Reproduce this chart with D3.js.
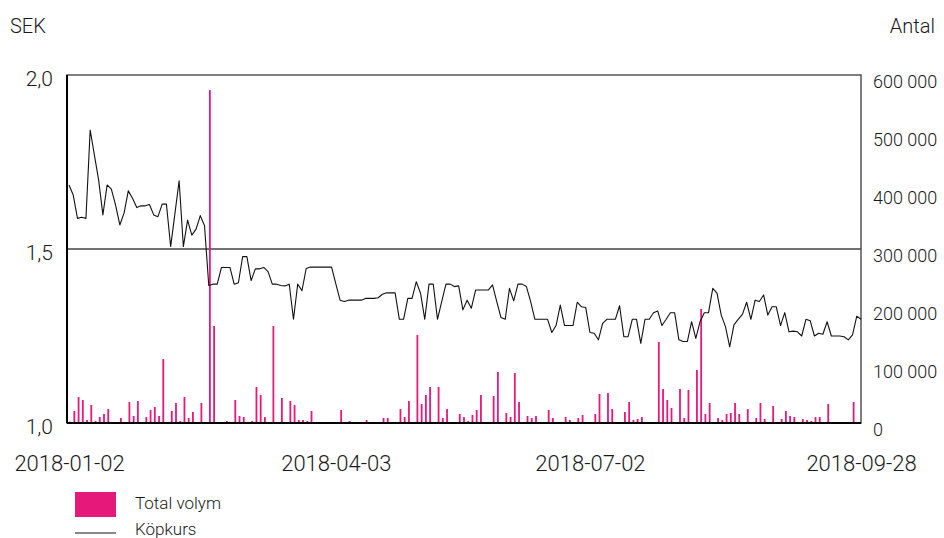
<!DOCTYPE html>
<html>
<head>
<meta charset="utf-8">
<script src="https://cdn.jsdelivr.net/npm/d3@7.9.0/dist/d3.min.js"></script>
<style>
  body { margin: 0; background: #fff; }
  svg text { font-family: Roboto, 'Liberation Sans', sans-serif; font-weight: 300; fill: #1a1a1a; }
</style>
</head>
<body>
<svg id="chart" width="944" height="538"></svg>
<script>
// Swedish trading days, 2018-01-02 .. 2018-09-28
const holidays = ['2018-01-01', '2018-03-30', '2018-04-02', '2018-05-01', '2018-05-10', '2018-06-06', '2018-06-22'];
const fmtDay = d3.timeFormat('%Y-%m-%d');
const dates = d3.timeDay.range(new Date(2018, 0, 2), new Date(2018, 8, 29))
  .filter(d => d.getDay() !== 0 && d.getDay() !== 6)
  .map(fmtDay)
  .filter(d => !holidays.includes(d));

const tickLabels = ['2018-01-02', '2018-04-03', '2018-07-02', '2018-09-28'];

// Köpkurs, SEK
const kopkurs = [
  1.684, 1.655, 1.588, 1.591, 1.588, 1.842, 1.770, 1.698, 1.598, 1.684,
  1.672, 1.626, 1.569, 1.603, 1.667, 1.646, 1.619, 1.624, 1.624, 1.628,
  1.598, 1.593, 1.629, 1.629, 1.507, 1.601, 1.696, 1.507, 1.583, 1.540,
  1.557, 1.596, 1.567, 1.395, 1.399, 1.399, 1.447, 1.447, 1.447, 1.399,
  1.403, 1.478, 1.478, 1.409, 1.443, 1.443, 1.447, 1.435, 1.399, 1.399,
  1.395, 1.394, 1.399, 1.298, 1.399, 1.380, 1.444, 1.448, 1.448, 1.448,
  1.448, 1.448, 1.448, 1.400, 1.353, 1.349, 1.353, 1.353, 1.353, 1.353,
  1.358, 1.358, 1.358, 1.360, 1.370, 1.374, 1.374, 1.374, 1.298, 1.298,
  1.358, 1.358, 1.406, 1.373, 1.298, 1.399, 1.399, 1.298, 1.349, 1.399,
  1.399, 1.392, 1.394, 1.325, 1.353, 1.330, 1.382, 1.382, 1.382, 1.382,
  1.397, 1.349, 1.303, 1.298, 1.387, 1.351, 1.399, 1.399, 1.392, 1.349,
  1.298, 1.298, 1.298, 1.298, 1.260, 1.280, 1.339, 1.280, 1.280, 1.280,
  1.347, 1.334, 1.332, 1.260, 1.258, 1.239, 1.286, 1.298, 1.298, 1.298,
  1.337, 1.248, 1.248, 1.298, 1.298, 1.229, 1.298, 1.298, 1.317, 1.322,
  1.280, 1.298, 1.317, 1.317, 1.239, 1.234, 1.234, 1.291, 1.243, 1.291,
  1.317, 1.317, 1.387, 1.373, 1.310, 1.277, 1.219, 1.282, 1.298, 1.312,
  1.347, 1.298, 1.353, 1.349, 1.368, 1.310, 1.334, 1.334, 1.280, 1.317,
  1.262, 1.264, 1.262, 1.250, 1.298, 1.294, 1.250, 1.258, 1.255, 1.291,
  1.250, 1.250, 1.250, 1.248, 1.239, 1.253, 1.307, 1.298
];

// Total volym, antal
const volym = [
  2300, 20700, 44800, 39700, 5200, 31000, 3400, 10300, 15500, 24100,
  0, 0, 8600, 1700, 36200, 12100, 37900, 0, 10300, 22400,
  27600, 12100, 110300, 0, 20700, 34500, 3400, 44800, 8600, 19000,
  1700, 34500, 1700, 574000, 167200, 0, 1700, 3400, 0, 39700,
  12100, 10300, 0, 3400, 62100, 48300, 10300, 0, 167200, 0,
  43100, 0, 37900, 31000, 5200, 5200, 3400, 20700, 0, 0,
  0, 0, 0, 0, 22400, 0, 3400, 0, 0, 0,
  5200, 0, 0, 0, 8600, 8600, 0, 1700, 24100, 10300,
  37900, 0, 151700, 32800, 48300, 62100, 0, 62100, 8600, 24100,
  0, 1700, 15500, 10300, 3400, 13800, 22400, 48300, 0, 0,
  46600, 87900, 1700, 17200, 10300, 86200, 36200, 0, 12100, 8600,
  12100, 1700, 1700, 22400, 8600, 1700, 0, 10300, 5200, 0,
  8600, 13800, 0, 0, 15500, 50000, 1700, 51700, 24100, 0,
  0, 19000, 36200, 5200, 6900, 10300, 1700, 0, 1700, 139700,
  58600, 39700, 25900, 0, 58600, 8600, 56900, 1700, 91400, 196600,
  15500, 34500, 0, 8600, 5200, 15500, 17200, 34500, 15500, 0,
  24100, 0, 8600, 34500, 6900, 1700, 29300, 0, 6900, 20700,
  12100, 10300, 0, 6900, 5200, 3400, 10300, 10300, 0, 32800,
  1700, 0, 0, 0, 1700, 36200, 0, 0
];

const margin = { top: 75, right: 83, bottom: 115, left: 67 };
const width = 944 - margin.left - margin.right;
const height = 538 - margin.top - margin.bottom;
const pink = '#e6197a';

const svg = d3.select('#chart');
const g = svg.append('g').attr('transform', `translate(${margin.left},${margin.top})`);

const x = d3.scalePoint().domain(dates).range([2, width]);
const yKurs = d3.scaleLinear().domain([1, 2]).range([height, 0]);
const yVol = d3.scaleLinear().domain([0, 600000]).range([height, 0]);

const comma = d3.format('.1f');
const spaced = d3.format(',');

// frame + gridline
g.append('rect')
  .attr('width', width).attr('height', height)
  .attr('fill', 'none').attr('stroke', '#555').attr('stroke-width', 1.5);
g.append('line')
  .attr('x1', 0).attr('x2', width)
  .attr('y1', yKurs(1.5)).attr('y2', yKurs(1.5))
  .attr('stroke', '#444').attr('stroke-width', 1.5);

// bars
g.selectAll('rect.bar')
  .data(dates)
  .join('rect')
  .attr('class', 'bar')
  .attr('x', (d) => x(d) + 0.2)
  .attr('width', 1.8)
  .attr('y', (d, i) => yVol(volym[i]))
  .attr('height', (d, i) => height - yVol(volym[i]))
  .attr('fill', pink);

// line
const line = d3.line()
  .x((d, i) => x(dates[i]))
  .y((d) => yKurs(d));
g.append('path')
  .datum(kopkurs)
  .attr('d', line)
  .attr('fill', 'none')
  .attr('stroke', '#111')
  .attr('stroke-width', 1.1)
  .attr('stroke-linejoin', 'round');

// left + bottom axis lines
g.append('line').attr('x1', 0).attr('x2', 0).attr('y1', 0).attr('y2', height)
  .attr('stroke', '#000').attr('stroke-width', 2);
g.append('line').attr('x1', 0).attr('x2', width).attr('y1', height).attr('y2', height)
  .attr('stroke', '#000').attr('stroke-width', 2);

// axes
const leftAxis = g.append('g')
  .call(d3.axisLeft(yKurs).tickValues([1, 1.5, 2]).tickSize(0).tickPadding(14)
    .tickFormat((d) => comma(d).replace('.', ',')));
leftAxis.selectAll('text').attr('dy', '0.5em').attr('font-size', 21);

const rightAxis = g.append('g')
  .attr('transform', `translate(${width},0)`)
  .call(d3.axisRight(yVol).tickValues(d3.range(0, 600001, 100000)).tickSize(0).tickPadding(12)
    .tickFormat((d) => spaced(d).replace(/,/g, ' ')));
rightAxis.selectAll('text').attr('dy', '0.68em').attr('font-size', 18);

const bottomAxis = g.append('g')
  .attr('transform', `translate(0,${height})`)
  .call(d3.axisBottom(x).tickValues(tickLabels).tickSize(0).tickPadding(32));
bottomAxis.selectAll('text').attr('font-size', 22);

[leftAxis, rightAxis, bottomAxis].forEach((a) => {
  a.select('.domain').remove();
  a.attr('font-family', null).attr('font-size', null);
});

// unit labels
svg.append('text').attr('x', 10).attr('y', 33).attr('font-size', 20).text('SEK');
svg.append('text').attr('x', 935).attr('y', 33).attr('font-size', 20)
  .attr('text-anchor', 'end').text('Antal');

// legend
const legend = svg.append('g').attr('transform', 'translate(75,492)');
legend.append('rect').attr('width', 41).attr('height', 25).attr('fill', pink);
legend.append('text').attr('x', 60).attr('y', 17).attr('font-size', 17).text('Total volym');
legend.append('line').attr('x1', 0).attr('x2', 41).attr('y1', 41).attr('y2', 41)
  .attr('stroke', '#111').attr('stroke-width', 1);
legend.append('text').attr('x', 60).attr('y', 43).attr('font-size', 17).text('Köpkurs');
</script>
</body>
</html>
